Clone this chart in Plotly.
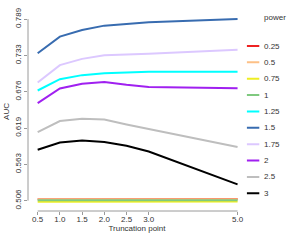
import plotly.graph_objects as go

trunc_points = [0.5, 1.0, 1.5, 2.0, 2.5, 3.0, 5.0]
powers = ["0.25", "0.5", "0.75", "1", "1.25", "1.5", "1.75", "2", "2.5", "3"]
colors = ["#EE2222", "#FDC086", "#EEEE22", "#7FC97F", "#00FFFF",
          "#386CB0", "#DCC8FF", "#A020F0", "#BEBEBE", "#000000"]

auc_025 = [0.5081, 0.5081, 0.5082, 0.5082, 0.5082, 0.5083, 0.5083]
auc_05 = [0.5080, 0.5080, 0.5080, 0.5080, 0.5079, 0.5079, 0.5079]
auc_075 = [0.5042, 0.5042, 0.5043, 0.5043, 0.5043, 0.5043, 0.5043]
auc_1 = [0.5065, 0.5065, 0.5065, 0.5065, 0.5065, 0.5065, 0.5065]
auc_125 = [0.6778, 0.6955, 0.7018, 0.7049, 0.7060, 0.7069, 0.7069]
auc_15 = [0.7360, 0.7620, 0.7724, 0.7791, 0.7818, 0.7844, 0.7893]
auc_175 = [0.6902, 0.7174, 0.7272, 0.7330, 0.7342, 0.7350, 0.7413]
auc_2 = [0.6581, 0.6809, 0.6882, 0.6909, 0.6866, 0.6831, 0.6815]
auc_25 = [0.6129, 0.6300, 0.6336, 0.6325, 0.6247, 0.6175, 0.5895]
auc_3 = [0.5853, 0.5966, 0.5998, 0.5973, 0.5915, 0.5826, 0.5311]
series = [auc_025, auc_05, auc_075, auc_1, auc_125, auc_15, auc_175,
          auc_2, auc_25, auc_3]

x_ticks = [0.5, 1.0, 1.5, 2.0, 2.5, 3.0, 5.0]
x_tick_labels = ["0.5", "1.0", "1.5", "2.0", "2.5", "3.0", "5.0"]
y_ticks = [0.5058, 0.5625, 0.6192, 0.6759, 0.7326, 0.7893]
y_tick_labels = ["0.506", "0.563", "0.619", "0.676", "0.733", "0.789"]

FONT = "Liberation Sans, Arial, sans-serif"
AXC = "#9a9a9a"
TXT = "#333333"

fig = go.Figure()
for p, c, ys in zip(powers, colors, series):
    fig.add_trace(go.Scatter(x=trunc_points, y=ys, mode="lines",
                             line=dict(color=c, width=2), name=p,
                             showlegend=False, xaxis="x", yaxis="y"))

# manual legend on a secondary axis (row index)
for i, (p, c) in enumerate(zip(powers, colors)):
    fig.add_trace(go.Scatter(x=[0, 1], y=[i, i], mode="lines",
                             line=dict(color=c, width=2), showlegend=False,
                             xaxis="x2", yaxis="y2", hoverinfo="skip"))
    fig.add_annotation(x=1.2, y=i, xref="x2", yref="y2", text=p,
                       showarrow=False, xanchor="left", yanchor="middle",
                       font=dict(size=8, color=TXT, family=FONT))
fig.add_annotation(x=1.2, y=-1.77, xref="x2", yref="y2", text="power",
                   showarrow=False, xanchor="left", yanchor="middle",
                   font=dict(size=8, color=TXT, family=FONT))

# R-style axis lines spanning first to last tick
fig.add_shape(type="line", xref="paper", yref="y", x0=0, x1=0,
              y0=y_ticks[0], y1=y_ticks[-1], line=dict(color=AXC, width=1))
fig.add_shape(type="line", xref="x", yref="paper", y0=0, y1=0,
              x0=x_ticks[0], x1=x_ticks[-1], line=dict(color=AXC, width=1))

main_w = 218 / 272
fig.update_layout(
    width=300, height=240,
    margin=dict(l=28, r=0, t=12, b=29, autoexpand=False),
    paper_bgcolor="white", plot_bgcolor="white",
    font=dict(family=FONT, size=8, color=TXT),
    xaxis=dict(domain=[0, main_w], range=[0.282, 5.19], automargin=False,
               tickvals=x_ticks, ticktext=x_tick_labels,
               ticks="outside", ticklen=3, tickcolor=AXC,
               ticklabelstandoff=-3,
               showgrid=False, zeroline=False, showline=False,
               tickfont=dict(size=8, color=TXT),
               title=dict(text="Truncation point", standoff=1,
                          font=dict(size=8, color=TXT))),
    yaxis=dict(range=[0.4896, 0.8004], automargin=False,
               tickvals=y_ticks, ticktext=y_tick_labels,
               ticks="outside", ticklen=3, tickcolor=AXC,
               tickangle=-90,
               showgrid=False, zeroline=False, showline=False,
               tickfont=dict(size=8, color=TXT),
               title=dict(text="AUC", standoff=2,
                          font=dict(size=8, color=TXT))),
    xaxis2=dict(domain=[(246.7 - 28) / 272, 1], range=[0, 4.23],
                visible=False, anchor="y2"),
    yaxis2=dict(range=[10.08, -2.077], visible=False, anchor="x2"),
)

fig.write_html("out.html",
               config={"displayModeBar": False, "staticPlot": True},
               post_script="document.body.style.margin='0';"
                           "document.body.style.overflow='hidden';")
